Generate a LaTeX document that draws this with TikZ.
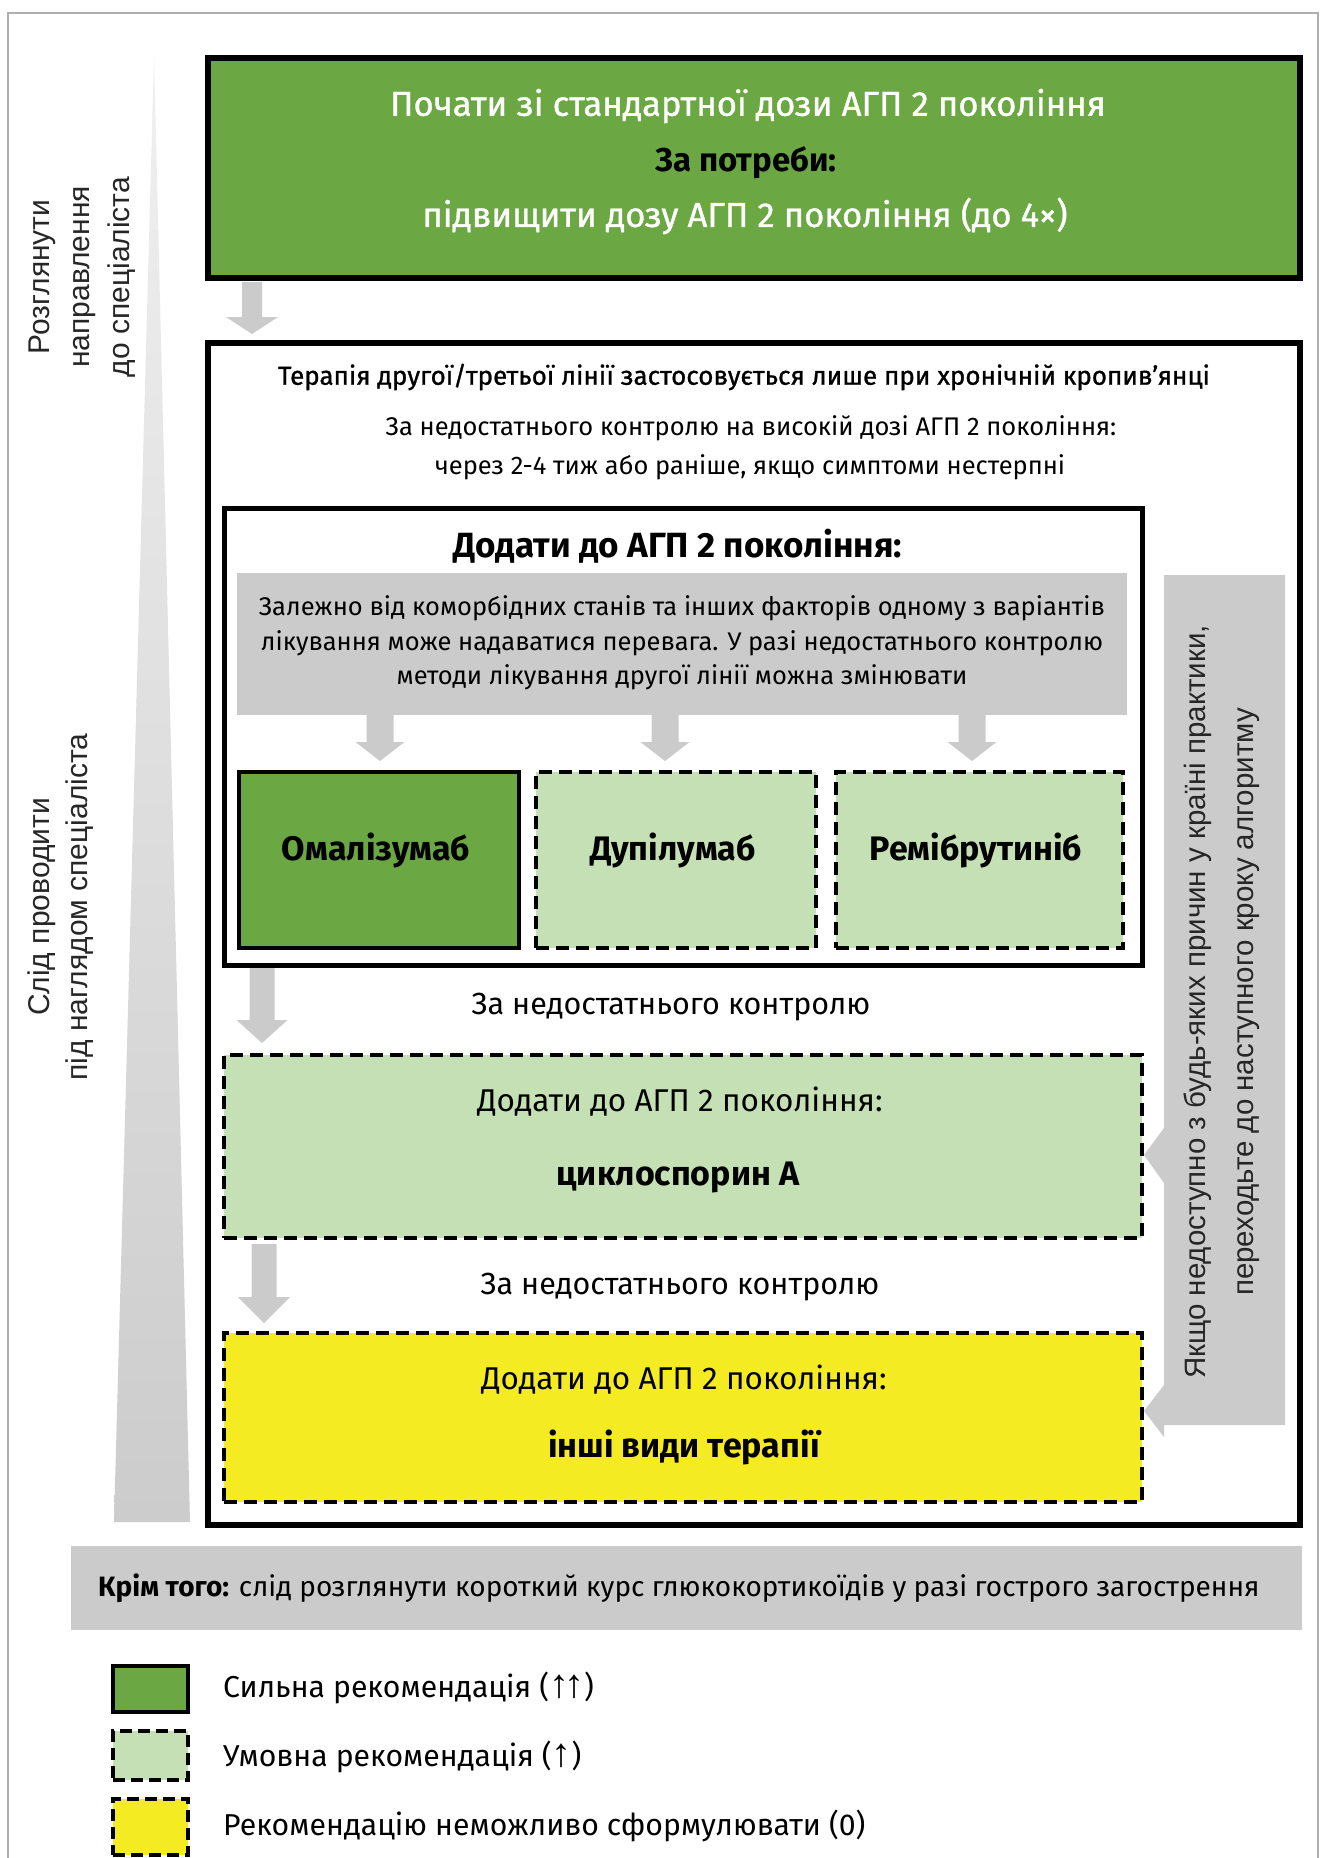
\documentclass[tikz,border=0pt]{standalone}
\usepackage{fontspec}
\setmainfont{Fira Sans}
\newfontfamily\medfont{Fira Sans}[FakeBold=1.0]
\newfontfamily\vfont{Liberation Sans}
\definecolor{dkgreen}{RGB}{107,167,67}
\definecolor{ltgreen}{RGB}{197,224,180}
\definecolor{ylw}{RGB}{245,235,35}
\definecolor{greyfill}{RGB}{203,203,203}
\definecolor{framegrey}{RGB}{175,175,175}
\newcommand{\fs}[2]{\fontsize{#1}{#2}\selectfont}
\newcommand{\blockdown}[6]{\fill[greyfill] (#1-#5/2,#2) -- (#1+#5/2,#2) -- (#1+#5/2,#3) -- (#1+#6/2,#3) -- (#1,#4) -- (#1-#6/2,#3) -- (#1-#5/2,#3) -- cycle;}
\begin{document}
\begin{tikzpicture}[x=1pt,y=-1pt,
  boxsolid/.style={draw=black, line width=5pt, rectangle, inner sep=0pt, anchor=north west},
  boxdash/.style={draw=black, line width=4.5pt, dash pattern=on 13pt off 7pt, rectangle, inner sep=0pt, anchor=north west},
  txt/.style={inner sep=0pt, align=center},
  vtxt/.style={inner sep=0pt, align=center, rotate=90, text=black!85}]
\useasboundingbox (0,0) rectangle (1325,1858);
\fill[white] (0,0) rectangle (1325,1858);
% outer frame
\draw[framegrey, line width=1.2pt] (8,1870) -- (8,13) -- (1318,13) -- (1318,1870);
% wedge
\shade[top color=black!6, bottom color=black!20] (154,57) -- (190,1522) -- (114,1522) -- cycle;
% vertical labels
\node[vtxt, font=\vfont\fs{30}{40}] (v1) at (82,277) {Розглянути\\направлення\\до спеціаліста};
\node[vtxt, font=\vfont\fs{30}{38}] (v2) at (61,907) {Слід проводити\\під наглядом спеціаліста};
% green box
\node[boxsolid, line width=6pt, fill=dkgreen, minimum width=1092pt, minimum height=220pt] (green) at (205,55) {};
\node[txt, text=white, font=\medfont\fs{34.6}{40}] (g1) at (748,106) {Почати зі стандартної дози АГП 2 покоління};
\node[txt, font=\bfseries\fs{33}{38}] (g2) at (746,163) {За потреби:};
\node[txt, text=white, font=\medfont\fs{34.6}{40}] (g3) at (745,216) {підвищити дозу АГП 2 покоління (до 4×)};
% arrow A
\blockdown{252}{282}{317}{334}{20}{52}
% big box
\node[boxsolid, line width=6pt, fill=white, minimum width=1092pt, minimum height=1182pt] (big) at (205,340) {};
\node[txt, font=\medfont\fs{26}{30}] (t1) at (744,377) {Терапія другої/третьої лінії застосовується лише при хронічній кропив’янці};
\node[txt, font=\fs{25.5}{30}] (t2) at (751,428) {За недостатнього контролю на високій дозі АГП 2 покоління:};
\node[txt, font=\fs{25.5}{30}] (t3) at (750,467) {через 2-4 тиж або раніше, якщо симптоми нестерпні};
% inner box
\node[boxsolid, minimum width=918pt, minimum height=457pt] (inner) at (221.5,505.5) {};
\node[txt, font=\bfseries\fs{35}{40}] (t4) at (678,546) {Додати до АГП 2 покоління:};
\node[fill=greyfill, inner sep=0pt, anchor=north west, minimum width=890pt, minimum height=142pt] (greyarea) at (237,573) {};
\node[txt, font=\fs{25.5}{34.5}] (t5) at (682,643) {Залежно від коморбідних станів та інших факторів одному з варіантів\\лікування може надаватися перевага. У разі недостатнього контролю\\методи лікування другої лінії можна змінювати};
\blockdown{380}{715}{742}{761}{27}{49}
\blockdown{665}{715}{742}{761}{27}{49}
\blockdown{972}{715}{742}{761}{27}{49}
\node[boxsolid, line width=4.5pt, fill=dkgreen, minimum width=280pt, minimum height=176pt] (oma) at (236.5,769.5) {};
\node[boxdash, fill=ltgreen, minimum width=280pt, minimum height=176pt] (dup) at (533.5,769.5) {};
\node[boxdash, fill=ltgreen, minimum width=287pt, minimum height=176pt] (rem) at (833.5,769.5) {};
\node[txt, font=\bfseries\fs{34}{38}] (oman) at (376,850) {Омалізумаб};
\node[txt, font=\bfseries\fs{34}{38}] (dupn) at (673,850) {Дупілумаб};
\node[txt, font=\bfseries\fs{34}{38}] (remn) at (976,850) {Ремібрутиніб};
% arrow C
\blockdown{262}{968}{1020}{1043}{25}{51}
\node[txt, font=\fs{30.5}{35}] (t6) at (671,1007) {За недостатнього контролю};
% cyclosporin
\node[boxdash, fill=ltgreen, minimum width=918pt, minimum height=183pt] (cyc) at (221.5,1052.5) {};
\node[txt, font=\fs{31.5}{36}] (c1) at (680,1102) {Додати до АГП 2 покоління:};
\node[txt, font=\bfseries\fs{34}{38}] (c2) at (678,1177) {циклоспорин А};
% arrow D
\blockdown{264}{1244}{1297}{1323}{25}{52}
\node[txt, font=\fs{30.5}{35}] (t7) at (680,1287) {За недостатнього контролю};
% yellow
\node[boxdash, fill=ylw, minimum width=918pt, minimum height=169pt] (oth) at (221.5,1330.5) {};
\node[txt, font=\fs{31.5}{36}] (y1) at (684,1380) {Додати до АГП 2 покоління:};
\node[txt, font=\bfseries\fs{34}{38}] (y2) at (684,1447) {інші види терапії};
% right bar with arrowheads
\fill[greyfill] (1164,575) -- (1285,575) -- (1285,1425) -- (1164,1425) -- (1164,1437) -- (1144,1411) -- (1164,1385) -- (1164,1183) -- (1144,1155) -- (1164,1128) -- cycle;
\node[vtxt, font=\vfont\fs{29.5}{48}] (v3) at (1222,1002) {Якщо недоступно з будь-яких причин у країні практики,\\переходьте до наступного кроку алгоритму};
% bottom grey bar
\node[fill=greyfill, inner sep=0pt, anchor=north west, minimum width=1231pt, minimum height=84pt] (note) at (71,1546) {};
\node[txt, anchor=west, font=\fs{28}{32}] (notet) at (98,1588) {\textbf{Крім того:} слід розглянути короткий курс глюкокортикоїдів у разі гострого загострення};
% legend
\node[boxsolid, line width=4pt, fill=dkgreen, minimum width=75pt, minimum height=46pt] (l1) at (111,1664) {};
\node[boxdash, line width=4pt, dash pattern=on 12pt off 6pt, fill=ltgreen, minimum width=75pt, minimum height=49pt] (l2) at (111,1729) {};
\node[boxdash, line width=4pt, dash pattern=on 12pt off 6pt, fill=ylw, minimum width=75pt, minimum height=56pt] (l3) at (111,1797) {};
\node[txt, anchor=west, font=\fs{30.2}{35}] (l1t) at (223,1688) {Сильна рекомендація ({\vfont\fs{40}{35}↑\kern-5pt↑})};
\node[txt, anchor=west, font=\fs{30.2}{35}] (l2t) at (223,1757) {Умовна рекомендація ({\vfont\fs{40}{35}↑})};
\node[txt, anchor=west, font=\fs{30.2}{35}] (l3t) at (223,1826) {Рекомендацію неможливо сформулювати (0)};
\end{tikzpicture}
\end{document}
